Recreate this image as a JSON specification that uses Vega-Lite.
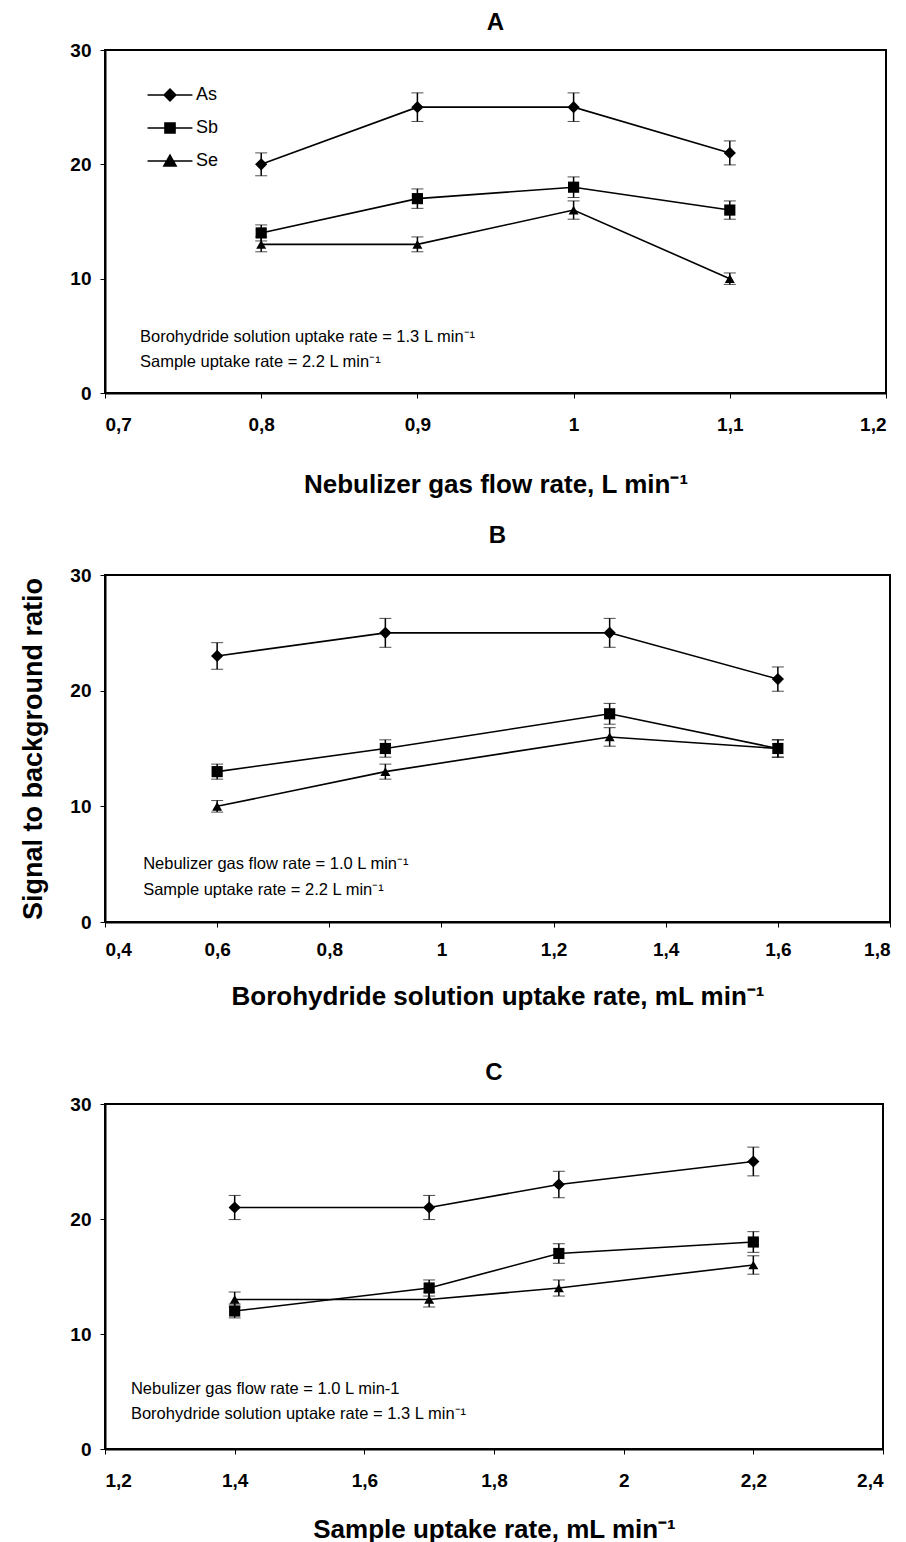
{
  "$schema": "https://vega.github.io/schema/vega-lite/v6.json",
  "background": "white",
  "padding": {"left": 18, "top": 10, "right": 10, "bottom": 0},
  "spacing": 182,
  "bounds": "flush",
  "config": {
    "font": "Liberation Sans",
    "view": {"stroke": "black", "strokeWidth": 2},
    "axis": {"grid": false, "domainColor": "black", "domainWidth": 2, "tickColor": "black", "tickSize": 5, "tickWidth": 1, "labelFont": "Liberation Sans", "labelFontWeight": "bold", "labelFontSize": 19, "labelColor": "black", "labelPadding": 9, "titleFont": "Liberation Sans", "titleFontWeight": "bold", "titleFontSize": 26, "titleColor": "black"},
    "axisX": {"labelPadding": 17},
    "title": {"fontSize": 24, "fontWeight": "bold", "color": "black", "anchor": "middle", "font": "Liberation Sans"}
  },
  "datasets": {
    "main": [
      {"panel": "A", "series": "As", "x": 0.8, "y": 20, "lo": 19, "hi": 21},
      {"panel": "A", "series": "As", "x": 0.9, "y": 25, "lo": 23.75, "hi": 26.25},
      {"panel": "A", "series": "As", "x": 1.0, "y": 25, "lo": 23.75, "hi": 26.25},
      {"panel": "A", "series": "As", "x": 1.1, "y": 21, "lo": 19.95, "hi": 22.05},
      {"panel": "A", "series": "Sb", "x": 0.8, "y": 14, "lo": 13.3, "hi": 14.7},
      {"panel": "A", "series": "Sb", "x": 0.9, "y": 17, "lo": 16.15, "hi": 17.85},
      {"panel": "A", "series": "Sb", "x": 1.0, "y": 18, "lo": 17.1, "hi": 18.9},
      {"panel": "A", "series": "Sb", "x": 1.1, "y": 16, "lo": 15.2, "hi": 16.8},
      {"panel": "A", "series": "Se", "x": 0.8, "y": 13, "lo": 12.35, "hi": 13.65},
      {"panel": "A", "series": "Se", "x": 0.9, "y": 13, "lo": 12.35, "hi": 13.65},
      {"panel": "A", "series": "Se", "x": 1.0, "y": 16, "lo": 15.2, "hi": 16.8},
      {"panel": "A", "series": "Se", "x": 1.1, "y": 10, "lo": 9.5, "hi": 10.5},
      {"panel": "B", "series": "As", "x": 0.6, "y": 23, "lo": 21.85, "hi": 24.15},
      {"panel": "B", "series": "As", "x": 0.9, "y": 25, "lo": 23.75, "hi": 26.25},
      {"panel": "B", "series": "As", "x": 1.3, "y": 25, "lo": 23.75, "hi": 26.25},
      {"panel": "B", "series": "As", "x": 1.6, "y": 21, "lo": 19.95, "hi": 22.05},
      {"panel": "B", "series": "Sb", "x": 0.6, "y": 13, "lo": 12.35, "hi": 13.65},
      {"panel": "B", "series": "Sb", "x": 0.9, "y": 15, "lo": 14.25, "hi": 15.75},
      {"panel": "B", "series": "Sb", "x": 1.3, "y": 18, "lo": 17.1, "hi": 18.9},
      {"panel": "B", "series": "Sb", "x": 1.6, "y": 15, "lo": 14.25, "hi": 15.75},
      {"panel": "B", "series": "Se", "x": 0.6, "y": 10, "lo": 9.5, "hi": 10.5},
      {"panel": "B", "series": "Se", "x": 0.9, "y": 13, "lo": 12.35, "hi": 13.65},
      {"panel": "B", "series": "Se", "x": 1.3, "y": 16, "lo": 15.2, "hi": 16.8},
      {"panel": "B", "series": "Se", "x": 1.6, "y": 15, "lo": 14.25, "hi": 15.75},
      {"panel": "C", "series": "As", "x": 1.4, "y": 21, "lo": 19.95, "hi": 22.05},
      {"panel": "C", "series": "As", "x": 1.7, "y": 21, "lo": 19.95, "hi": 22.05},
      {"panel": "C", "series": "As", "x": 1.9, "y": 23, "lo": 21.85, "hi": 24.15},
      {"panel": "C", "series": "As", "x": 2.2, "y": 25, "lo": 23.75, "hi": 26.25},
      {"panel": "C", "series": "Sb", "x": 1.4, "y": 12, "lo": 11.4, "hi": 12.6},
      {"panel": "C", "series": "Sb", "x": 1.7, "y": 14, "lo": 13.3, "hi": 14.7},
      {"panel": "C", "series": "Sb", "x": 1.9, "y": 17, "lo": 16.15, "hi": 17.85},
      {"panel": "C", "series": "Sb", "x": 2.2, "y": 18, "lo": 17.1, "hi": 18.9},
      {"panel": "C", "series": "Se", "x": 1.4, "y": 13, "lo": 12.35, "hi": 13.65},
      {"panel": "C", "series": "Se", "x": 1.7, "y": 13, "lo": 12.35, "hi": 13.65},
      {"panel": "C", "series": "Se", "x": 1.9, "y": 14, "lo": 13.3, "hi": 14.7},
      {"panel": "C", "series": "Se", "x": 2.2, "y": 16, "lo": 15.2, "hi": 16.8}
    ],
    "notes": [
      {"panel": "A", "line": 1, "note": "Borohydride solution uptake rate = 1.3 L min⁻¹"},
      {"panel": "A", "line": 2, "note": "Sample uptake rate = 2.2 L min⁻¹"},
      {"panel": "B", "line": 1, "note": "Nebulizer gas flow rate = 1.0 L min⁻¹"},
      {"panel": "B", "line": 2, "note": "Sample uptake rate = 2.2 L min⁻¹"},
      {"panel": "C", "line": 1, "note": "Nebulizer gas flow rate = 1.0  L min-1"},
      {"panel": "C", "line": 2, "note": "Borohydride solution uptake rate = 1.3 L min⁻¹"}
    ]
  },
  "vconcat": [
    {
      "width": 781, "height": 343,
      "title": {"text": "A", "offset": 6},
      "layer": [
        {"data": {"name": "main"}, "transform": [{"filter": "datum.panel == 'A'"}], "mark": {"type": "line", "color": "black", "strokeWidth": 1.6}, "encoding": {"x": {"field": "x", "type": "quantitative", "scale": {"domain": [0.7, 1.2]}, "axis": {"values": [0.7, 0.8, 0.9, 1.0, 1.1, 1.2], "labelExpr": "replace(format(datum.value, '~g'), '.', ',')", "title": "Nebulizer gas flow rate, L min⁻¹", "titlePadding": 37}}, "y": {"field": "y", "type": "quantitative", "scale": {"domain": [0, 30]}, "axis": {"values": [0, 10, 20, 30], "title": null}}, "detail": {"field": "series"}}},
        {"data": {"name": "main"}, "transform": [{"filter": "datum.panel == 'A'"}], "mark": {"type": "errorbar", "color": "black", "ticks": {"size": 12, "strokeWidth": 1.5}, "rule": {"strokeWidth": 1.5}}, "encoding": {"x": {"field": "x", "type": "quantitative", "title": "Nebulizer gas flow rate, L min⁻¹"}, "y": {"field": "lo", "type": "quantitative", "title": null}, "y2": {"field": "hi"}, "detail": {"field": "series"}}},
        {"data": {"name": "main"}, "transform": [{"filter": "datum.panel == 'A'"}], "mark": {"type": "point", "filled": true, "color": "black", "opacity": 1}, "encoding": {"x": {"field": "x", "type": "quantitative", "title": "Nebulizer gas flow rate, L min⁻¹"}, "y": {"field": "y", "type": "quantitative", "title": null}, "shape": {"field": "series", "type": "nominal", "scale": {"domain": ["As", "Sb", "Se"], "range": ["diamond", "square", "triangle-up"]}, "legend": null}, "size": {"field": "series", "type": "nominal", "scale": {"domain": ["As", "Sb", "Se"], "range": [150, 100, 120]}, "legend": null}}},
        {"data": {"name": "main"}, "transform": [{"filter": "datum.panel == 'A'"}], "mark": {"type": "point", "filled": true, "color": "black", "strokeWidth": 1.5, "opacity": 0}, "encoding": {"x": {"field": "x", "type": "quantitative", "title": "Nebulizer gas flow rate, L min⁻¹"}, "y": {"field": "y", "type": "quantitative", "title": null}, "shape": {"field": "series", "type": "nominal", "scale": {"domain": ["As", "Sb", "Se"], "range": ["M-4,0H4M0,-1.05L1.05,0L0,1.05L-1.05,0Z", "M-4,0H4M-0.9,-0.9H0.9V0.9H-0.9Z", "M-4,0H4M0,-1.05L1.1,0.9H-1.1Z"]}, "legend": {"title": null, "orient": "none", "legendX": 56, "legendY": 36, "padding": 0, "symbolSize": 126, "symbolOpacity": 1, "symbolStrokeWidth": 1.5, "labelFont": "Liberation Sans", "labelFontSize": 18, "labelColor": "black", "labelOffset": 17, "rowPadding": 15, "encoding": {"symbols": {"opacity": {"value": 1}, "fill": {"value": "black"}, "stroke": {"value": "black"}, "strokeWidth": {"value": 1.5}}}}}}},
        {"data": {"name": "notes"}, "transform": [{"filter": "datum.panel == 'A' && datum.line == 1"}], "mark": {"type": "text", "align": "left", "baseline": "middle", "fontSize": 16.5, "font": "Liberation Sans", "color": "black"}, "encoding": {"x": {"datum": 0.7224, "type": "quantitative"}, "y": {"datum": 4.9, "type": "quantitative"}, "text": {"field": "note", "type": "nominal"}}},
        {"data": {"name": "notes"}, "transform": [{"filter": "datum.panel == 'A' && datum.line == 2"}], "mark": {"type": "text", "align": "left", "baseline": "middle", "fontSize": 16.5, "font": "Liberation Sans", "color": "black"}, "encoding": {"x": {"datum": 0.7224, "type": "quantitative"}, "y": {"datum": 2.7, "type": "quantitative"}, "text": {"field": "note", "type": "nominal"}}}
      ],
      "resolve": {"scale": {"shape": "independent"}, "legend": {"shape": "independent"}}
    },
    {
      "width": 785, "height": 347,
      "title": {"text": "B", "offset": 18},
      "layer": [
        {"data": {"name": "main"}, "transform": [{"filter": "datum.panel == 'B'"}], "mark": {"type": "line", "color": "black", "strokeWidth": 1.6}, "encoding": {"x": {"field": "x", "type": "quantitative", "scale": {"domain": [0.4, 1.8]}, "axis": {"values": [0.4, 0.6, 0.8, 1.0, 1.2, 1.4, 1.6, 1.8], "labelExpr": "replace(format(datum.value, '~g'), '.', ',')", "title": "Borohydride solution uptake rate, mL min⁻¹", "labelPadding": 13, "titlePadding": 24}}, "y": {"field": "y", "type": "quantitative", "scale": {"domain": [0, 30]}, "axis": {"values": [0, 10, 20, 30], "title": "Signal to background ratio", "titlePadding": 22, "titleFontSize": 27}}, "detail": {"field": "series"}}},
        {"data": {"name": "main"}, "transform": [{"filter": "datum.panel == 'B'"}], "mark": {"type": "errorbar", "color": "black", "ticks": {"size": 12, "strokeWidth": 1.5}, "rule": {"strokeWidth": 1.5}}, "encoding": {"x": {"field": "x", "type": "quantitative", "title": "Borohydride solution uptake rate, mL min⁻¹"}, "y": {"field": "lo", "type": "quantitative", "title": "Signal to background ratio"}, "y2": {"field": "hi"}, "detail": {"field": "series"}}},
        {"data": {"name": "main"}, "transform": [{"filter": "datum.panel == 'B'"}], "mark": {"type": "point", "filled": true, "color": "black", "opacity": 1}, "encoding": {"x": {"field": "x", "type": "quantitative", "title": "Borohydride solution uptake rate, mL min⁻¹"}, "y": {"field": "y", "type": "quantitative", "title": "Signal to background ratio"}, "shape": {"field": "series", "type": "nominal", "scale": {"domain": ["As", "Sb", "Se"], "range": ["diamond", "square", "triangle-up"]}, "legend": null}, "size": {"field": "series", "type": "nominal", "scale": {"domain": ["As", "Sb", "Se"], "range": [150, 100, 120]}, "legend": null}}},
        {"data": {"name": "notes"}, "transform": [{"filter": "datum.panel == 'B' && datum.line == 1"}], "mark": {"type": "text", "align": "left", "baseline": "middle", "fontSize": 16.5, "font": "Liberation Sans", "color": "black"}, "encoding": {"x": {"datum": 0.468, "type": "quantitative"}, "y": {"datum": 5.0, "type": "quantitative"}, "text": {"field": "note", "type": "nominal"}}},
        {"data": {"name": "notes"}, "transform": [{"filter": "datum.panel == 'B' && datum.line == 2"}], "mark": {"type": "text", "align": "left", "baseline": "middle", "fontSize": 16.5, "font": "Liberation Sans", "color": "black"}, "encoding": {"x": {"datum": 0.468, "type": "quantitative"}, "y": {"datum": 2.77, "type": "quantitative"}, "text": {"field": "note", "type": "nominal"}}}
      ]
    },
    {
      "width": 778, "height": 345,
      "title": {"text": "C", "offset": 10},
      "layer": [
        {"data": {"name": "main"}, "transform": [{"filter": "datum.panel == 'C'"}], "mark": {"type": "line", "color": "black", "strokeWidth": 1.6}, "encoding": {"x": {"field": "x", "type": "quantitative", "scale": {"domain": [1.2, 2.4]}, "axis": {"values": [1.2, 1.4, 1.6, 1.8, 2.0, 2.2, 2.4], "labelExpr": "replace(format(datum.value, '~g'), '.', ',')", "title": "Sample uptake rate, mL min⁻¹", "titlePadding": 26}}, "y": {"field": "y", "type": "quantitative", "scale": {"domain": [0, 30]}, "axis": {"values": [0, 10, 20, 30], "title": null}}, "detail": {"field": "series"}}},
        {"data": {"name": "main"}, "transform": [{"filter": "datum.panel == 'C'"}], "mark": {"type": "errorbar", "color": "black", "ticks": {"size": 12, "strokeWidth": 1.5}, "rule": {"strokeWidth": 1.5}}, "encoding": {"x": {"field": "x", "type": "quantitative", "title": "Sample uptake rate, mL min⁻¹"}, "y": {"field": "lo", "type": "quantitative", "title": null}, "y2": {"field": "hi"}, "detail": {"field": "series"}}},
        {"data": {"name": "main"}, "transform": [{"filter": "datum.panel == 'C'"}], "mark": {"type": "point", "filled": true, "color": "black", "opacity": 1}, "encoding": {"x": {"field": "x", "type": "quantitative", "title": "Sample uptake rate, mL min⁻¹"}, "y": {"field": "y", "type": "quantitative", "title": null}, "shape": {"field": "series", "type": "nominal", "scale": {"domain": ["As", "Sb", "Se"], "range": ["diamond", "square", "triangle-up"]}, "legend": null}, "size": {"field": "series", "type": "nominal", "scale": {"domain": ["As", "Sb", "Se"], "range": [150, 100, 120]}, "legend": null}}},
        {"data": {"name": "notes"}, "transform": [{"filter": "datum.panel == 'C' && datum.line == 1"}], "mark": {"type": "text", "align": "left", "baseline": "middle", "fontSize": 16.5, "font": "Liberation Sans", "color": "black"}, "encoding": {"x": {"datum": 1.24, "type": "quantitative"}, "y": {"datum": 5.2, "type": "quantitative"}, "text": {"field": "note", "type": "nominal"}}},
        {"data": {"name": "notes"}, "transform": [{"filter": "datum.panel == 'C' && datum.line == 2"}], "mark": {"type": "text", "align": "left", "baseline": "middle", "fontSize": 16.5, "font": "Liberation Sans", "color": "black"}, "encoding": {"x": {"datum": 1.24, "type": "quantitative"}, "y": {"datum": 3.04, "type": "quantitative"}, "text": {"field": "note", "type": "nominal"}}}
      ]
    }
  ]
}
